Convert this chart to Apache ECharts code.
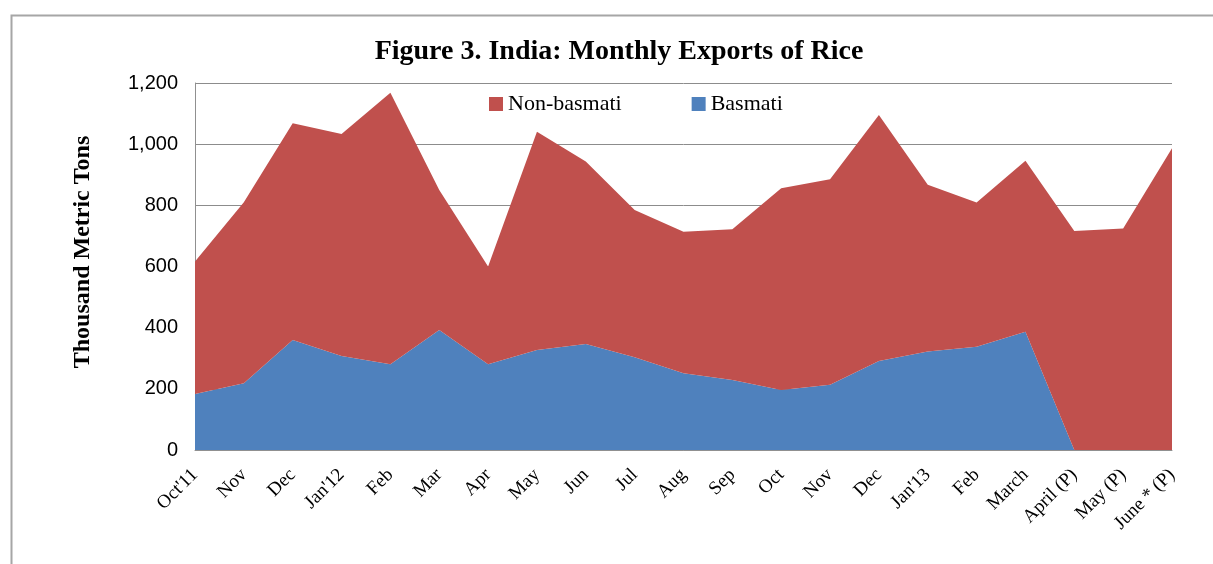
<!DOCTYPE html>
<html>
<head>
<meta charset="utf-8">
<script src="https://cdn.jsdelivr.net/npm/echarts@6/dist/echarts.min.js"></script>
<style>
html,body{margin:0;padding:0;background:#fff;}
#chart{width:1213px;height:564px;}
</style>
</head>
<body>
<div id="chart"></div>
<script>
const categories = ["Oct'11","Nov","Dec","Jan'12","Feb","Mar","Apr","May","Jun","Jul","Aug","Sep","Oct","Nov","Dec","Jan'13","Feb","March","April (P)","May (P)","June * (P)"];
const basmati = [183,218,360,307,280,392,280,327,347,303,251,229,196,213,291,322,338,387,0,0,0];
const nonBasmati = [433,592,708,726,888,458,320,714,596,482,463,493,660,672,804,545,471,559,716,724,987];
const yTicks = [0,200,400,600,800,1000,1200];

const chart = echarts.init(document.getElementById('chart'), null, {renderer:'canvas'});
const serif = "'Liberation Serif','Times New Roman',serif";
chart.setOption({
  animation:false,
  backgroundColor:'#ffffff',
  graphic:[{
    type:'rect', left:9, top:13, shape:{x:0,y:0,width:1300,height:700},
    style:{fill:'none', stroke:'#a6a6a6', lineWidth:2}, silent:true, z:-1
  },{
    type:'text', x:83, y:252, rotation:Math.PI/2, silent:true,
    style:{text:'Thousand Metric Tons', font:"bold 24px 'Liberation Serif','Times New Roman',serif",
      fill:'#000', textAlign:'center', textVerticalAlign:'middle', align:'center', verticalAlign:'middle'}
  }],
  title:{
    text:'Figure 3. India: Monthly Exports of Rice',
    left:619, top:38, textAlign:'center', padding:0,
    textStyle:{fontFamily:serif, fontWeight:'bold', fontSize:28, color:'#000'}
  },
  legend:{
    data:['Non-basmati','Basmati'],
    left:489, top:93, padding:0,
    icon:'rect', itemWidth:14, itemHeight:14, itemGap:70,
    textStyle:{fontFamily:serif, fontSize:22, color:'#000'}
  },
  grid:{left:195, right:41, top:83, bottom:114, containLabel:false},
  xAxis:{
    type:'category', data:categories, boundaryGap:false,
    axisLine:{lineStyle:{color:'#909090', width:1}},
    axisTick:{show:false},
    axisLabel:{rotate:45, fontFamily:serif, fontSize:19, color:'#000', margin:22, interval:0}
  },
  yAxis:{
    type:'value', min:yTicks[0], max:yTicks[yTicks.length-1], interval:200,
    axisLine:{show:true, lineStyle:{color:'#909090', width:1}},
    axisTick:{show:false},
    splitLine:{show:true, lineStyle:{color:'#8c8c8c', width:1}},
    axisLabel:{fontFamily:"'Liberation Sans',Arial,sans-serif", fontSize:20, color:'#000', margin:17,
      formatter:v=>v.toLocaleString('en-US')}
  },
  series:[
    {name:'Basmati', type:'line', stack:'total', data:basmati, symbol:'none',
     lineStyle:{width:0}, itemStyle:{color:'#4F81BD'}, areaStyle:{color:'#4F81BD', opacity:1}},
    {name:'Non-basmati', type:'line', stack:'total', data:nonBasmati, symbol:'none',
     lineStyle:{width:0}, itemStyle:{color:'#C0504D'}, areaStyle:{color:'#C0504D', opacity:1}}
  ]
});
</script>
</body>
</html>
